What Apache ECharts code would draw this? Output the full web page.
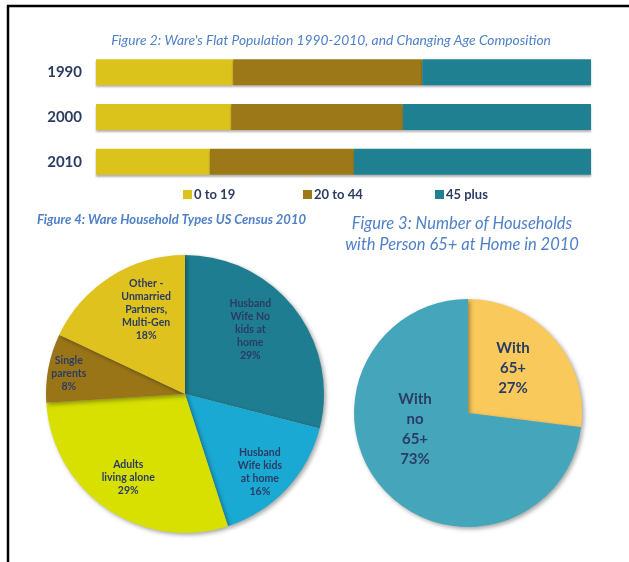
<!DOCTYPE html>
<html>
<head>
<meta charset="utf-8">
<script src="https://cdn.jsdelivr.net/npm/echarts@6/dist/echarts.min.js"></script>
<style>html,body{margin:0;padding:0;background:#fff}#c{width:629px;height:562px}</style>
</head>
<body>
<div id="c"></div>
<script>
// ---- Data ----
const years = ['1990', '2000', '2010'];
const ageGroups = ['0 to 19', '20 to 44', '45 plus'];
const age0to19 = [27.7, 27.3, 23.0];
const age20to44 = [38.2, 34.7, 29.1];
const age45plus = [34.1, 38.0, 47.9];

const householdTypes = [
  'Husband\nWife No\nkids at\nhome',
  'Husband\nWife kids\nat home',
  'Adults\nliving alone',
  'Single\nparents',
  'Other -\nUnmarried\nPartners,\nMulti-Gen'
];
const householdShares = [29, 16, 29, 8, 18];

const seniorTypes = ['With\n65+', 'With\nno\n65+'];
const seniorShares = [27, 73];

// ---- Styles ----
const navy = '#2b3c63';
const titleBlue = '#4f80c8';
const font = 'Lato, "Open Sans", sans-serif';
const barColors = ['#dcc31b', '#9c7818', '#1f8092'];
const hhColors = ['#1e7d90', '#1aa9d2', '#d7e000', '#9a7518', '#dfc21e'];
const seniorColors = ['#f9c95c', '#45a6bb'];
const hhLabelShift = [[8, -20], [22, 28], [-16, 24], [-45, -7], [0, -23]];
const seniorLabelShift = [[0, -5], [-8, -24]];
const legendLefts = [183, 303, 435];

const barShadow = {shadowColor: 'rgba(0,0,0,0.3)', shadowBlur: 2, shadowOffsetY: 2};
const ageSeries = [age0to19, age20to44, age45plus];

const chart = echarts.init(document.getElementById('c'));
chart.setOption({
  animation: false,
  textStyle: {fontFamily: font},
  title: [
    {text: "Figure 2: Ware's Flat Population 1990-2010, and Changing Age Composition",
     left: 331, top: 34, textAlign: 'center', padding: 0,
     textStyle: {fontFamily: font, fontStyle: 'italic', fontWeight: 'normal', fontSize: 13.8, color: titleBlue}},
    {text: 'Figure 4: Ware Household Types US Census 2010',
     left: 37, top: 213, padding: 0,
     textStyle: {fontFamily: font, fontStyle: 'italic', fontWeight: 'bold', fontSize: 13, color: titleBlue}},
    {text: 'Figure 3: Number of Households\nwith Person 65+ at Home in 2010',
     left: 462, top: 213, textAlign: 'center', padding: 0,
     textStyle: {fontFamily: font, fontStyle: 'italic', fontWeight: 'normal', fontSize: 16.5, lineHeight: 21, color: titleBlue}}
  ],
  legend: ageGroups.map((g, i) => ({
    data: [g], left: legendLefts[i], top: 188, padding: 0, itemWidth: 9, itemHeight: 9,
    icon: 'rect',
    textStyle: {fontFamily: font, fontWeight: 'bold', fontSize: 13, color: navy, padding: [0, 0, 0, -3]}
  })),
  grid: {left: 96, right: 38, top: 50, height: 134},
  xAxis: {type: 'value', min: 0, max: 100, show: false},
  yAxis: {
    type: 'category', data: years, inverse: true,
    axisLine: {show: false}, axisTick: {show: false},
    axisLabel: {fontFamily: font, fontWeight: 'bold', fontSize: 15, color: navy, margin: 14}
  },
  series: ageGroups.map((g, i) => ({
    name: g, type: 'bar', stack: 'age', data: ageSeries[i], barWidth: 26,
    itemStyle: Object.assign({color: barColors[i]}, barShadow)
  })).concat([
    {
      type: 'pie', center: [185, 394], radius: 139, startAngle: 90, clockwise: true,
      data: householdTypes.map((n, i) => ({name: n, value: householdShares[i], itemStyle: {color: hhColors[i]}})),
      itemStyle: {shadowColor: 'rgba(0,0,0,0.35)', shadowBlur: 4, shadowOffsetX: 2, shadowOffsetY: 2},
      label: {position: 'inside', formatter: '{b}\n{c}%', fontFamily: font, fontWeight: 'bold',
              fontSize: 10.5, lineHeight: 13, color: navy, align: 'center'},
      labelLayout: p => ({dx: hhLabelShift[p.dataIndex][0], dy: hhLabelShift[p.dataIndex][1]}),
      emphasis: {disabled: true}
    },
    {
      type: 'pie', center: [468, 413], radius: 114, startAngle: 90, clockwise: true,
      data: seniorTypes.map((n, i) => ({name: n, value: seniorShares[i], itemStyle: {color: seniorColors[i]}})),
      itemStyle: {shadowColor: 'rgba(0,0,0,0.35)', shadowBlur: 4, shadowOffsetX: 2, shadowOffsetY: 2},
      label: {position: 'inside', formatter: '{b}\n{c}%', fontFamily: font, fontWeight: 'bold',
              fontSize: 15, lineHeight: 20, color: navy, align: 'center'},
      labelLayout: p => ({dx: seniorLabelShift[p.dataIndex][0], dy: seniorLabelShift[p.dataIndex][1]}),
      emphasis: {disabled: true}
    }
  ]),
  graphic: [
    {type: 'line', shape: {x1: 7, y1: 6, x2: 629, y2: 6}, style: {stroke: '#000', lineWidth: 2.5}, silent: true},
    {type: 'line', shape: {x1: 8, y1: 5, x2: 8, y2: 562}, style: {stroke: '#000', lineWidth: 2.5}, silent: true}
  ]
});
</script>
</body>
</html>
